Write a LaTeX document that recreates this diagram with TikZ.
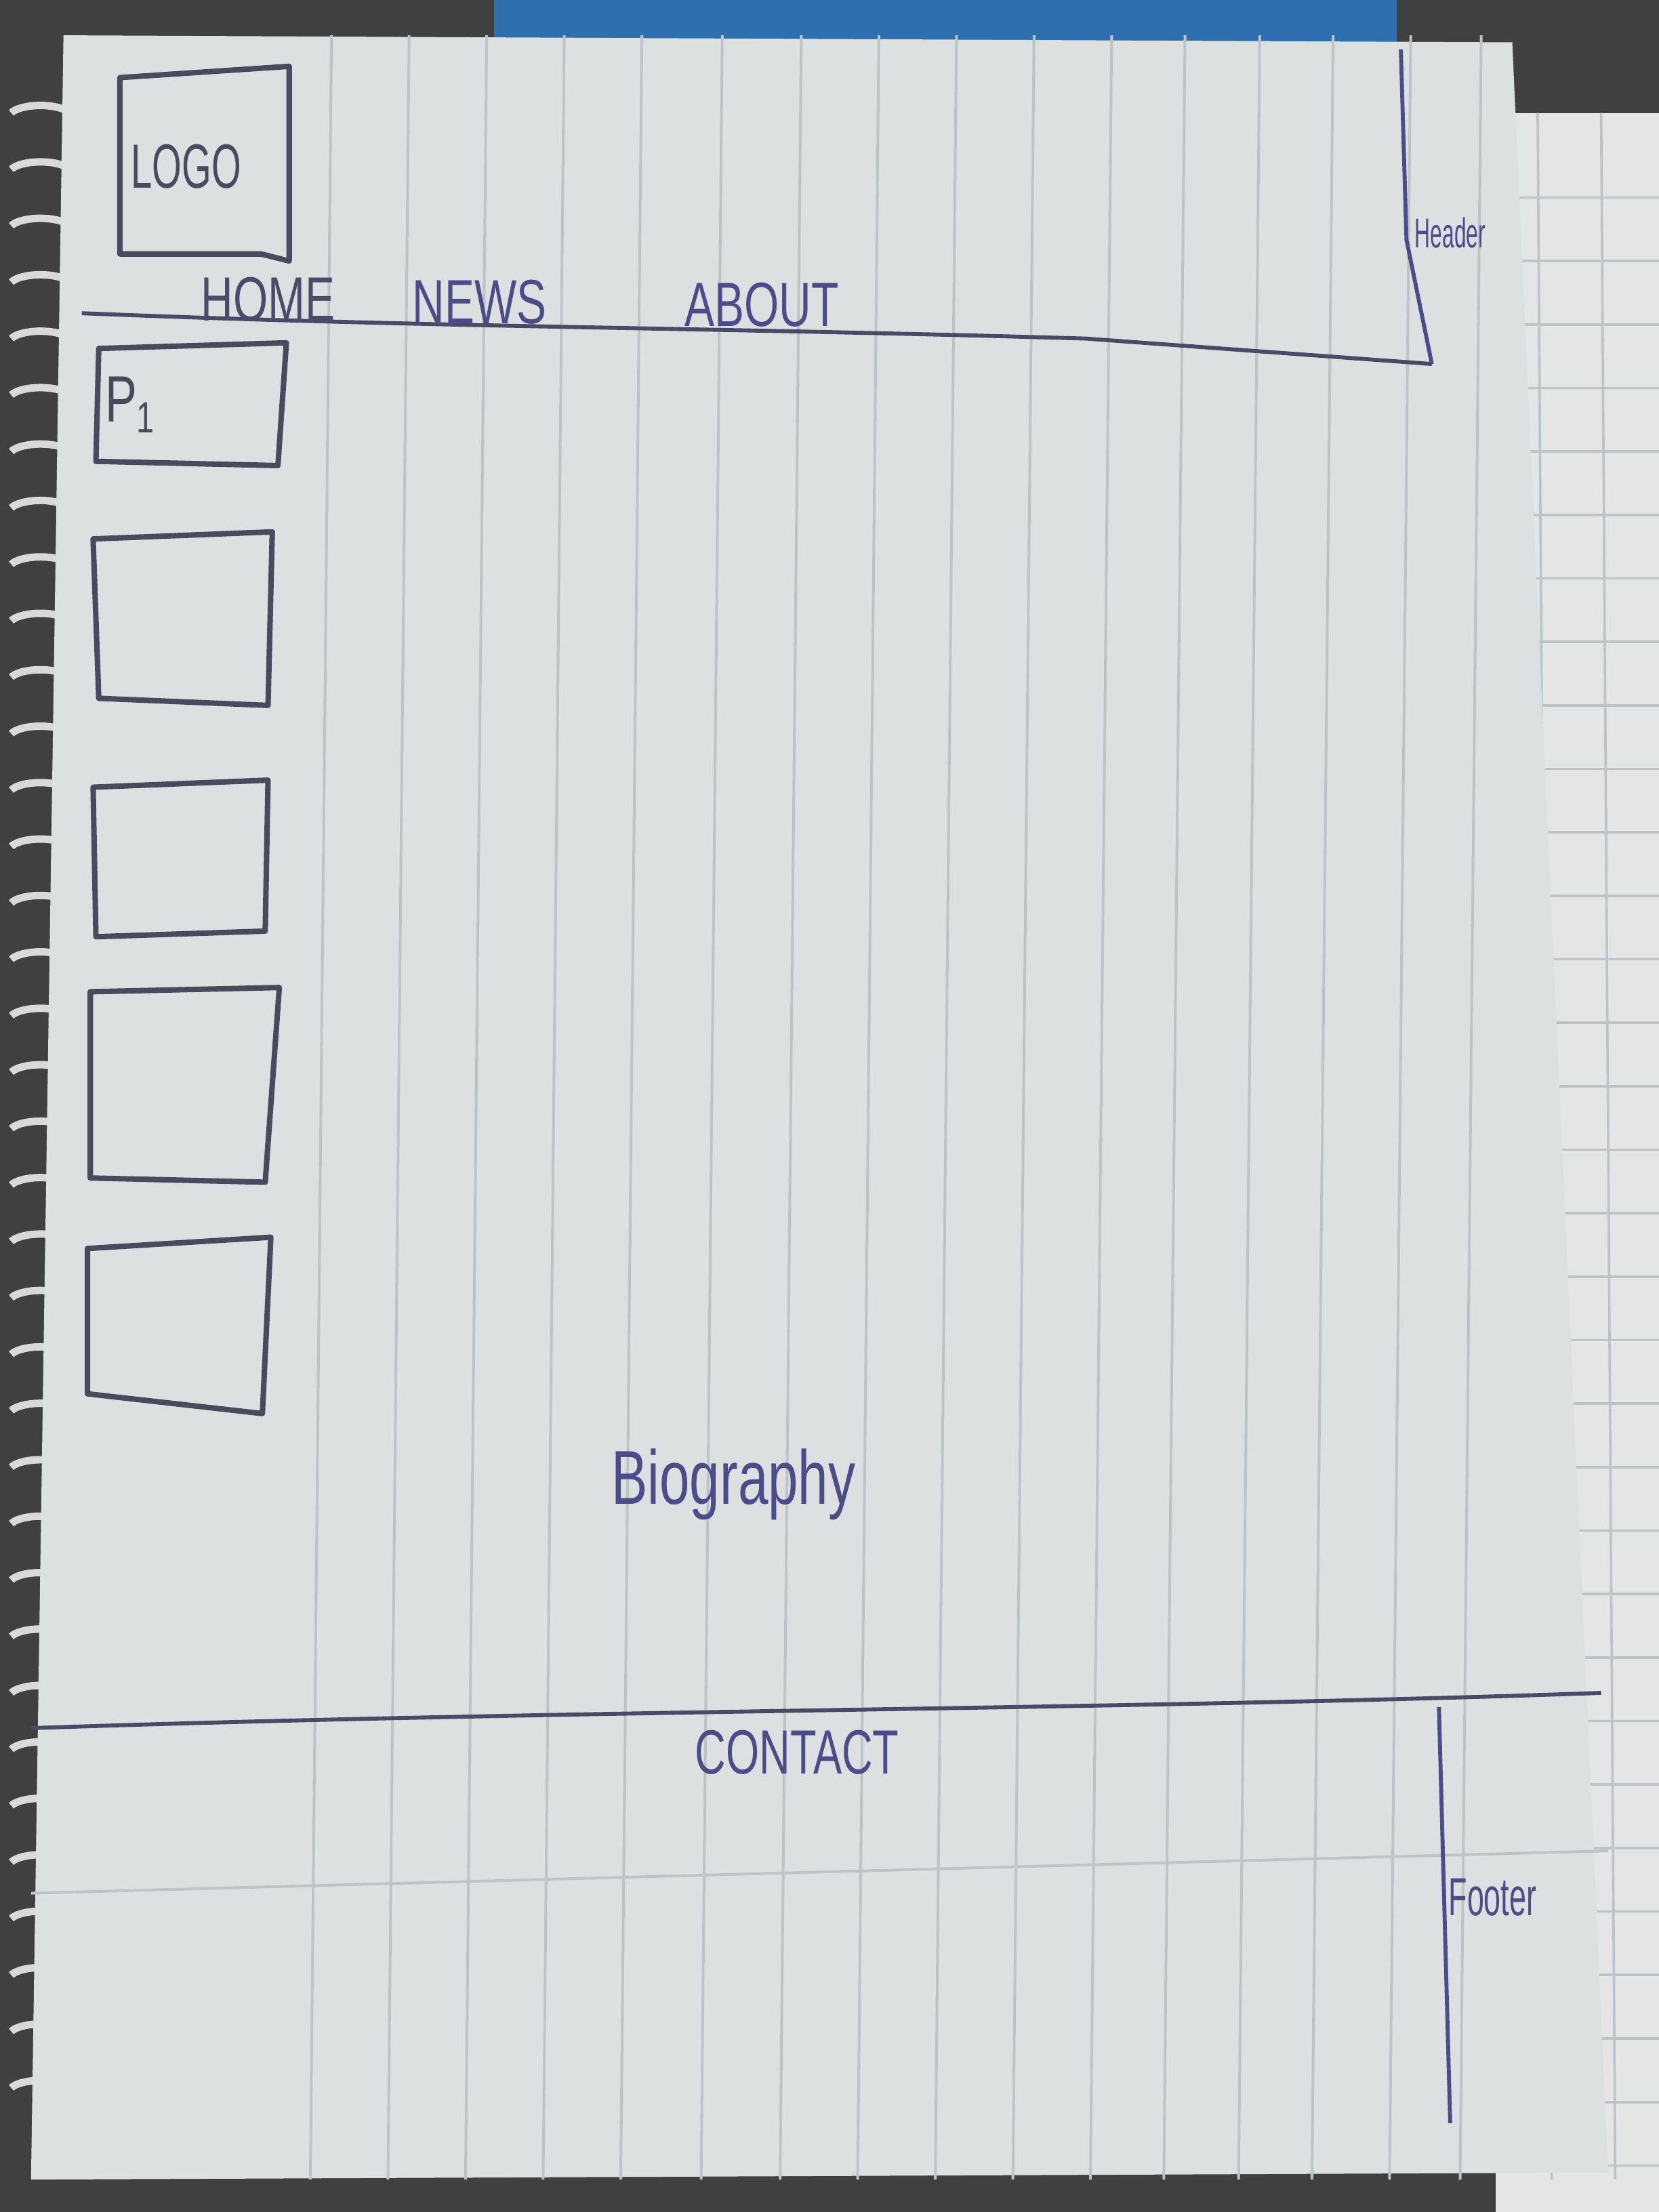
\documentclass[tikz,border=0pt]{standalone}
\usepackage{fontspec}
\setmainfont{Liberation Sans}
\definecolor{pen}{HTML}{4A4A5E}
\definecolor{ink}{HTML}{4C4C8A}
\definecolor{paper}{HTML}{DCE0E0}
\definecolor{rule}{HTML}{BCC4C8}
\definecolor{gridp}{HTML}{E4E6E6}
\definecolor{bluep}{HTML}{2E6FB0}
\begin{document}
\begin{tikzpicture}[x=0.01cm,y=-0.01cm,
  sketch/.style={draw=pen,line width=1.1pt,line join=round},
  thin pen/.style={draw=pen!80!ink,line width=0.8pt},
  lbl/.style={text=pen,inner sep=0pt,font=\fontsize{12}{14}\selectfont},
  small lbl/.style={text=ink,inner sep=0pt,font=\fontsize{7}{8}\selectfont}]
\useasboundingbox (0,0) rectangle (1176,1568);
% background
\fill[black!75] (0,0) rectangle (1176,1568);
\fill[bluep] (350,0) rectangle (990,30);
\fill[gridp] (1060,80) rectangle (1176,1568);
\foreach \x in {1090,1135}{\draw[rule,line width=0.5pt] (\x,80) -- (\x+10,1545);}
\foreach \y in {140,185,...,1540}{\draw[rule,line width=0.5pt] (1060,\y) -- (1176,\y);}
% spiral hints
\foreach \y in {80,120,...,1500}{\draw[white!85!black,line width=1.5pt] (8,\y) arc[start angle=200,end angle=340,x radius=22,y radius=8];}
% main paper
\fill[paper] (45,25) -- (1072,30) -- (1140,1540) -- (22,1545) -- cycle;
\foreach \x in {235,290,345,400,455,512,568,623,678,733,788,840,893,945,1000,1050}{
  \draw[rule,line width=0.55pt] (\x,25) -- (\x-15,1545);}
\draw[rule,line width=0.55pt] (22,1342) -- (1140,1312);
% logo
\draw[sketch] (85,55) -- (205,47) -- (205,185) -- (185,180) -- (85,180) -- cycle;
\node[lbl] (logo) at (132,118) {\scalebox{0.64}[1.05]{LOGO}};
% navigation
\coordinate (navL) at (58,222);
\coordinate (navM) at (770,240);
\coordinate (navR) at (1015,258);
\draw[thin pen] (navL) .. controls (300,232) and (500,232) .. (navM) -- (navR);
\node[lbl,text=pen!70!ink] (home) at (190,212) {\scalebox{0.75}[1.05]{HOME}};
\node[lbl,text=ink] (news) at (340,214) {\scalebox{0.75}[1.05]{NEWS}};
\node[lbl,text=ink] (about) at (540,216) {\scalebox{0.75}[1.05]{ABOUT}};
% header marker
\coordinate (hTop) at (993,35);
\draw[thin pen,draw=ink] (hTop) -- (997,170) -- (navR);
\node[small lbl] (header) at (1028,165) {\scalebox{0.62}[1.2]{Header}};
% side boxes
\draw[sketch] (70,247) -- (203,243) -- (197,330) -- (68,327) -- cycle;
\node[lbl] (p1) at (92,287) {\scalebox{0.8}[1.1]{P\raisebox{-2pt}{\fontsize{8}{8}\selectfont 1}}};
\draw[sketch] (66,382) -- (193,377) -- (190,500) -- (70,495) -- cycle;
\draw[sketch] (66,558) -- (190,553) -- (188,660) -- (68,664) -- cycle;
\draw[sketch] (64,703) -- (198,700) -- (188,838) -- (64,835) -- cycle;
\draw[sketch] (62,885) -- (192,877) -- (186,1002) -- (62,988) -- cycle;
% content
\node[lbl,text=ink,font=\fontsize{14}{17}\selectfont] (bio) at (520,1052) {\scalebox{0.78}[1.1]{Biography}};
% footer
\coordinate (fL) at (22,1225);
\coordinate (fR) at (1135,1200);
\draw[thin pen] (fL) .. controls (400,1212) and (800,1212) .. (fR);
\node[lbl,text=ink] (contact) at (565,1242) {\scalebox{0.72}[1.05]{CONTACT}};
\coordinate (fTop) at (1020,1210);
\coordinate (fBot) at (1028,1505);
\draw[thin pen,draw=ink] (fTop) -- (fBot);
\node[small lbl,font=\fontsize{9}{10}\selectfont] (footer) at (1058,1345) {\scalebox{0.68}[1.2]{Footer}};
\end{tikzpicture}
\end{document}
